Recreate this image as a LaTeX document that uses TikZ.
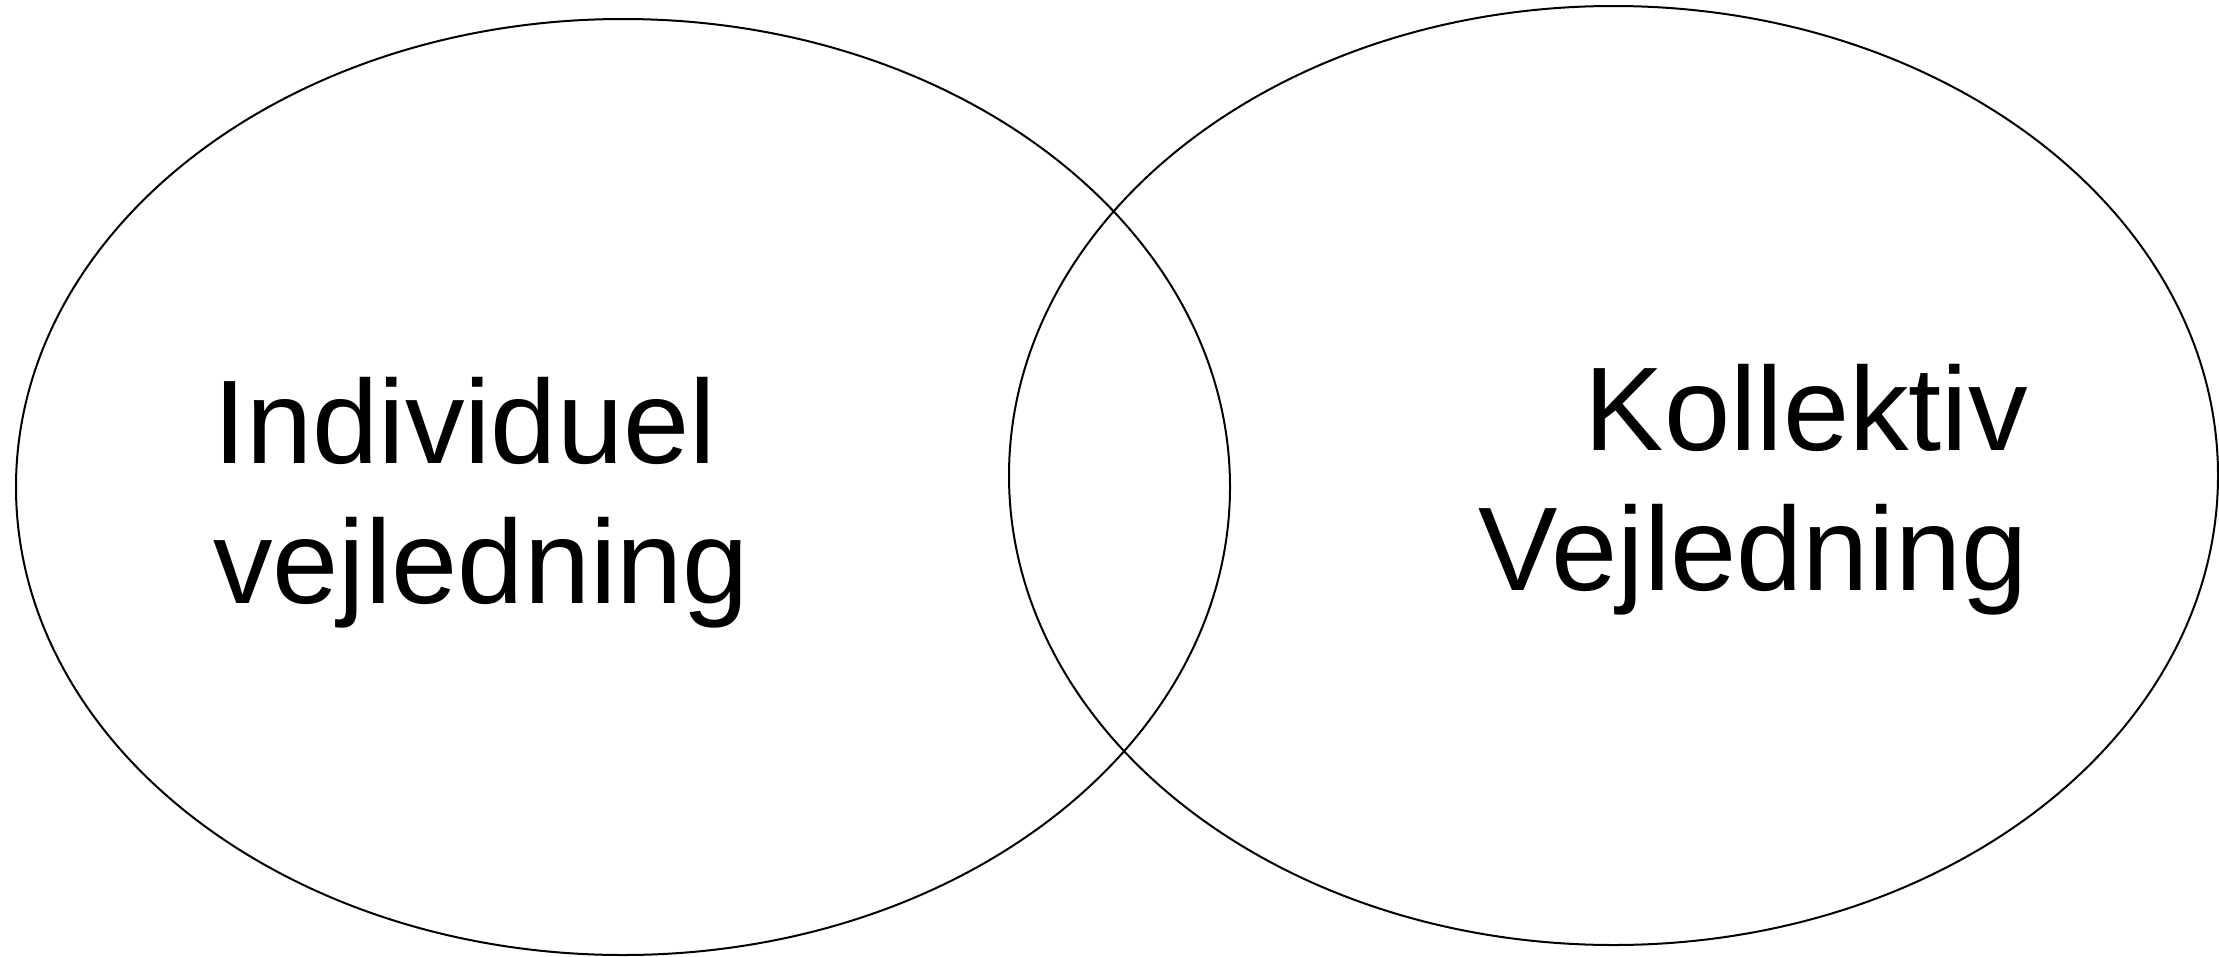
\documentclass[tikz,border=0pt]{standalone}
\usepackage{fontspec}
\setmainfont{Liberation Sans}
\usetikzlibrary{shapes.geometric}
\begin{document}
\begin{tikzpicture}[x=1pt,y=-1pt]
\tikzstyle{ring}=[draw, ellipse, line width=2pt, inner sep=0pt]
\tikzstyle{label}=[inner sep=0pt, font=\fontsize{119}{140}\selectfont]
    \useasboundingbox (0,0) rectangle (2219,956);
    \node [ring, minimum width=1214pt, minimum height=936pt] (ind) at (623,487) {};
    \node [ring, minimum width=1209pt, minimum height=939pt] (kol) at (1613.5,475.5) {};
    \node [label, align=left, anchor=west] (indtxt) at (213,502.5) {Individuel\\vejledning};
    \node [label, align=right, anchor=east] (koltxt) at (2028,490) {Kollektiv\\Vejledning};
\end{tikzpicture}
\end{document}
